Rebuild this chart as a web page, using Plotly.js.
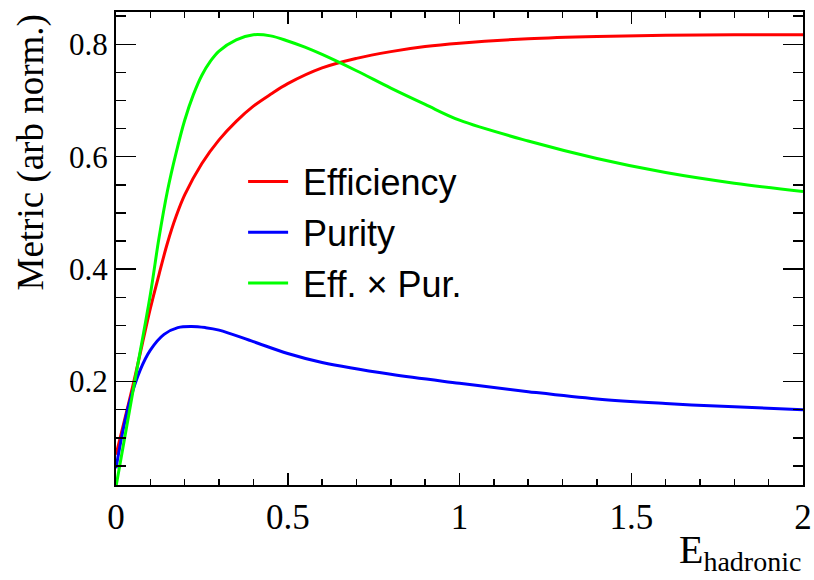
<!DOCTYPE html>
<html>
<head>
<meta charset="utf-8">
<script src="https://cdn.plot.ly/plotly-3.0.1.min.js"></script>
<style>html,body{margin:0;padding:0;background:#fff;}#chart{width:814px;height:580px;}</style>
</head>
<body>
<div id="chart"></div>
<script>
// Efficiency
const effX = [0, 0.05, 0.1, 0.125, 0.15, 0.175, 0.2, 0.25, 0.3, 0.35, 0.4, 0.45, 0.5, 0.6, 0.7, 0.8, 0.9, 1.0, 1.2, 1.4, 1.6, 1.8, 2.0];
const effY = [0.07, 0.195, 0.33, 0.39, 0.447, 0.494, 0.532, 0.588, 0.63, 0.663, 0.69, 0.711, 0.73, 0.758, 0.775, 0.787, 0.796, 0.802, 0.81, 0.814, 0.816, 0.817, 0.817];
// Purity
const purX = [0, 0.02, 0.04, 0.07, 0.1, 0.14, 0.18, 0.22, 0.26, 0.3, 0.4, 0.5, 0.6, 0.8, 1.0, 1.2, 1.4, 1.6, 1.8, 2.0];
const purY = [0.046, 0.112, 0.165, 0.22, 0.256, 0.284, 0.296, 0.298, 0.296, 0.2916, 0.271, 0.25, 0.234, 0.213, 0.197, 0.182, 0.169, 0.161, 0.155, 0.150];
// Eff x Pur
const epX = [0, 0.05, 0.1, 0.125, 0.15, 0.175, 0.2, 0.225, 0.25, 0.275, 0.3, 0.35, 0.4, 0.45, 0.5, 0.55, 0.6, 0.7, 0.8, 0.9, 1.0, 1.2, 1.4, 1.6, 1.8, 2.0];
const epY = [0.013, 0.185, 0.355, 0.455, 0.54, 0.607, 0.665, 0.71, 0.745, 0.77, 0.788, 0.808, 0.817, 0.815, 0.806, 0.795, 0.782, 0.753, 0.722, 0.693, 0.665, 0.628, 0.597, 0.572, 0.553, 0.538];

const seriesNames = ["Efficiency", "Purity", "Eff. \u00d7 Pur."];
const seriesColors = ["#ff0000", "#0000ff", "#00ff00"];
const xTickVals = [0, 0.5, 1, 1.5, 2];
const xTickText = ["0", "0.5", "1", "1.5", "2"];
const yTickVals = [0.2, 0.4, 0.6, 0.8];
const yTickText = ["0.2", "0.4", "0.6", "0.8"];

const serif = "Liberation Serif, Times New Roman, serif";
const sans = "Liberation Sans, Arial, sans-serif";

const xs = [effX, purX, epX];
const ys = [effY, purY, epY];
const traces = seriesNames.map((n, i) => ({
  x: xs[i], y: ys[i], name: "\u00a0" + n, legendgroup: "g" + i, mode: "lines",
  line: {color: seriesColors[i], width: 3, shape: "spline", smoothing: 1}
}));

const axisCommon = {
  showline: true, linecolor: "#000", linewidth: 2, mirror: "ticks",
  ticks: "inside", tickcolor: "#000", tickwidth: 1.5,
  showgrid: false, zeroline: false
};

const layout = {
  width: 814, height: 580,
  margin: {l: 116, r: 11, t: 12, b: 95},
  paper_bgcolor: "#fff", plot_bgcolor: "#fff",
  showlegend: true,
  legend: {
    x: 0.185, y: 0.705, xanchor: "left", yanchor: "top",
    bgcolor: "rgba(0,0,0,0)", borderwidth: 0,
    font: {family: sans, size: 36, color: "#000"},
    tracegroupgap: 1, itemwidth: 40
  },
  xaxis: Object.assign({}, axisCommon, {
    range: [0, 2], tickvals: xTickVals, ticktext: xTickText, ticklen: 12,
    tickfont: {family: serif, size: 35, color: "#000"},
    minor: {dtick: 0.1, tick0: 0, ticks: "inside", ticklen: 6, tickcolor: "#000", tickwidth: 1.5, showgrid: false}
  }),
  yaxis: Object.assign({}, axisCommon, {
    range: [0.016, 0.8575], tickvals: yTickVals, ticktext: yTickText, ticklen: 20,
    tickfont: {family: serif, size: 31, color: "#000"},
    minor: {dtick: 0.05, tick0: 0, ticks: "inside", ticklen: 10, tickcolor: "#000", tickwidth: 1.5, showgrid: false}
  }),
  annotations: [
    {text: "Metric (arb norm.)", xref: "paper", yref: "paper", x: -0.123, y: 1.0, xanchor: "center", yanchor: "top",
     textangle: -90, showarrow: false, font: {family: serif, size: 37, color: "#000"}},
    {text: "E<sub>hadronic</sub>", xref: "paper", yref: "paper", x: 1.0, y: -0.085, xanchor: "right", yanchor: "top",
     showarrow: false, font: {family: serif, size: 40, color: "#000"}}
  ]
};

Plotly.newPlot("chart", traces, layout, {displayModeBar: false, staticPlot: true});
</script>
</body>
</html>
